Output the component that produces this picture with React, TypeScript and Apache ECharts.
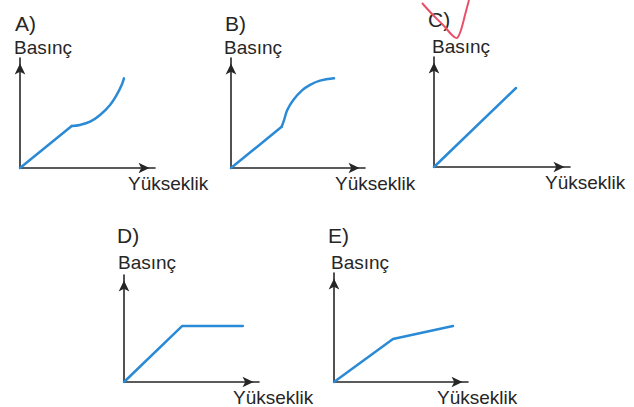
import React, { useEffect, useRef } from "react";
import * as echarts from "echarts";

// Panel letters and axis titles
const panelLabels = ["A)", "B)", "C)", "D)", "E)"];
const yAxisTitle = "Basınç";
const xAxisTitle = "Yükseklik";

// Series data (abstract units 0..100 on both axes)
const aLinear = [[0, 0], [38.3, 38.2]];
const aCurve = [[38.3, 38.2], [44.4, 39.1], [51.9, 42.1], [59.3, 48.2], [66.7, 57.3], [71.6, 66.4], [75.3, 75.5], [77, 81.5]];
const bLinear = [[0, 0], [37.8, 37.5]];
const bCurve = [[37.8, 37.5], [39.6, 43.6], [42, 52.7], [46.5, 61.8], [52.8, 70.3], [59, 75.5], [66.4, 79.4], [76.9, 81.5]];
const cLinear = [[0, 0], [60.3, 71.8]];
const dLinear = [[0, 0], [43, 52.3], [88, 52.3]];
const eLinear = [[0, 0], [44, 39.4], [88.8, 51.4]];

const BLUE = "#2a8ad6";
const INK = "#262626";

export default function App() {
  const ref = useRef<HTMLDivElement>(null);
  useEffect(() => {
    if (!ref.current) return;
    const chart = echarts.init(ref.current, null, { renderer: "svg" });
    const grids = [
      { left: 20, top: 58, width: 135, height: 110 },
      { left: 231, top: 58, width: 134, height: 110 },
      { left: 434, top: 57, width: 136, height: 110 },
      { left: 124, top: 275, width: 135, height: 107 },
      { left: 334, top: 273, width: 134, height: 109 },
    ];
    const axisLine = {
      show: true,
      symbol: ["none", "arrow"],
      symbolSize: [8, 11],
      symbolOffset: [0, -5.5],
      lineStyle: { color: INK, width: 1.6 },
    };
    const baseAxis = {
      type: "value" as const,
      min: 0,
      max: 100,
      axisLine,
      axisTick: { show: false },
      axisLabel: { show: false },
      splitLine: { show: false },
    };
    const xAxis = grids.map((_, i) => ({ ...baseAxis, gridIndex: i }));
    const yAxis = grids.map((_, i) => ({ ...baseAxis, gridIndex: i }));
    const line = (data: number[][], idx: number, smooth: number | boolean) => ({
      type: "line",
      xAxisIndex: idx,
      yAxisIndex: idx,
      data,
      smooth,
      symbol: "none",
      clip: false,
      lineStyle: { color: BLUE, width: 2.5, cap: "round", join: "round" },
    });
    const series = [
      line(aLinear, 0, false),
      line(aCurve, 0, 0.4),
      line(bLinear, 1, false),
      line(bCurve, 1, 0.4),
      line(cLinear, 2, false),
      line(dLinear, 3, false),
      line(eLinear, 4, false),
    ];
    const labelPos = [
      { l: [15, 23], b: [14, 47], y: [128, 183] },
      { l: [225, 23], b: [224, 47], y: [335, 183] },
      { l: [428, 19], b: [432, 46], y: [545, 182] },
      { l: [117, 235], b: [118, 262], y: [233, 397] },
      { l: [328, 235], b: [331, 262], y: [437, 397] },
    ];
    const textEl = (x: number, y: number, text: string, size: number) => ({
      type: "text",
      x,
      y,
      style: {
        text,
        fill: INK,
        font: `${size}px "Liberation Sans", Arial, sans-serif`,
        textVerticalAlign: "middle",
        textAlign: "left",
      },
    });
    const graphic: any[] = [];
    labelPos.forEach((p, i) => {
      graphic.push(textEl(p.l[0], p.l[1], panelLabels[i], 21));
      graphic.push(textEl(p.b[0], p.b[1], yAxisTitle, 19));
      graphic.push(textEl(p.y[0], p.y[1], xAxisTitle, 19));
    });
    graphic.push({
      type: "polyline",
      shape: { points: [[422, 3], [432, 14], [444, 26], [452, 35], [457, 38], [461, 30], [465, 15], [469, 0]], smooth: 0.3 },
      style: { stroke: "#e8506a", lineWidth: 2, fill: "none" },
      z: 10,
    });
    chart.setOption({
      animation: false,
      backgroundColor: "#ffffff",
      grid: grids,
      xAxis,
      yAxis,
      series,
      graphic,
    });
    return () => chart.dispose();
  }, []);
  return (
    <div
      ref={ref}
      style={{ position: "fixed", left: 0, top: 0, width: 634, height: 407 }}
    />
  );
}
